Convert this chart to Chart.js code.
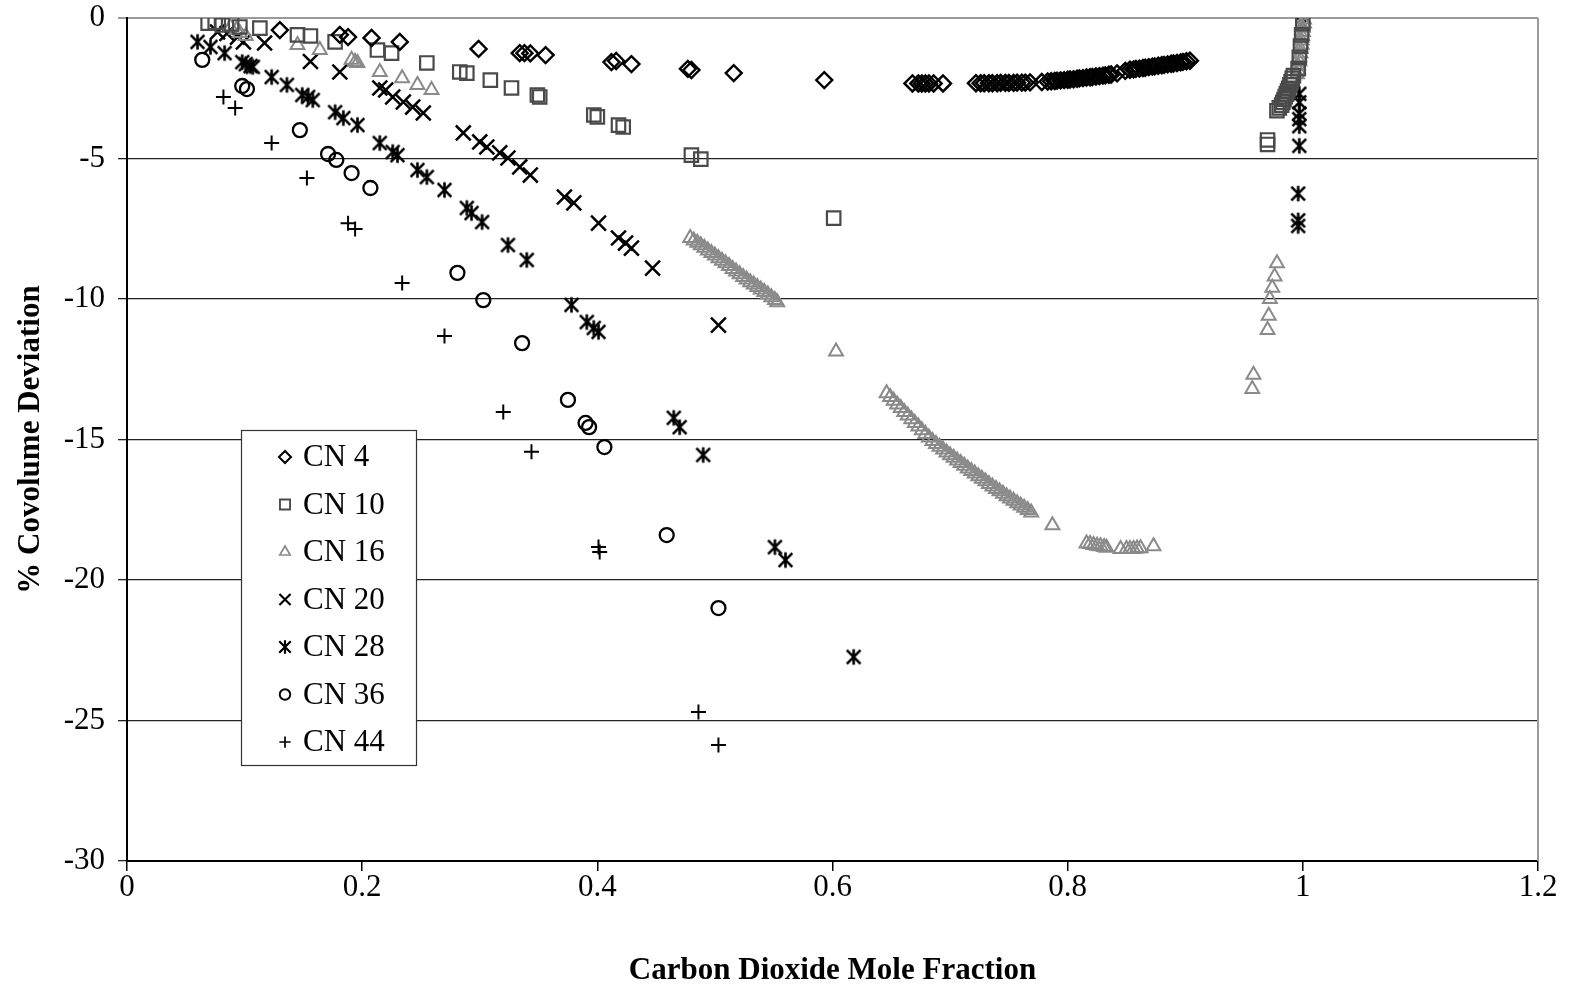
<!DOCTYPE html>
<html>
<head>
<meta charset="utf-8">
<script src="https://cdn.jsdelivr.net/npm/chart.js@4.4.0/dist/chart.umd.min.js"></script>
<style>
    html, body { margin: 0; padding: 0; background: #fff; }
    #wrap { width: 1573px; height: 987px; }
</style>
</head>
<body>
<div id="wrap"><canvas id="myChart" width="1573" height="987"></canvas></div>
<script>
// series, [CO2 mole fraction, % covolume deviation]
const seriesNames = ['CN 4', 'CN 10', 'CN 16', 'CN 20', 'CN 28', 'CN 36', 'CN 44'];

const cn4 = [
    [0.130, -0.43], [0.181, -0.60], [0.188, -0.68], [0.208, -0.71], [0.232, -0.85], [0.299, -1.10],
    [0.334, -1.25], [0.338, -1.25], [0.343, -1.26], [0.356, -1.32], [0.412, -1.57], [0.416, -1.53],
    [0.429, -1.64], [0.477, -1.81], [0.480, -1.85], [0.516, -1.96], [0.593, -2.21],
    [0.668, -2.33], [0.673, -2.33], [0.676, -2.33], [0.679, -2.33], [0.682, -2.33], [0.686, -2.33],
    [0.694, -2.33],
    [0.722, -2.32], [0.726, -2.32], [0.729, -2.32], [0.733, -2.32], [0.736, -2.32], [0.740, -2.32],
    [0.743, -2.31], [0.747, -2.31], [0.750, -2.31], [0.754, -2.31], [0.757, -2.30], [0.761, -2.30],
    [0.764, -2.30], [0.768, -2.29], [0.778, -2.28],
    [0.783, -2.26], [0.786, -2.25], [0.789, -2.24], [0.791, -2.23], [0.794, -2.22], [0.797, -2.21],
    [0.800, -2.20], [0.802, -2.19], [0.805, -2.18], [0.808, -2.16], [0.810, -2.15], [0.813, -2.14],
    [0.816, -2.12], [0.819, -2.11], [0.821, -2.10], [0.824, -2.08], [0.827, -2.07], [0.830, -2.05],
    [0.832, -2.04], [0.835, -2.02], [0.837, -2.01], [0.842, -1.97], [0.849, -1.88],
    [0.853, -1.84], [0.856, -1.83], [0.858, -1.81], [0.861, -1.80], [0.864, -1.78], [0.866, -1.77],
    [0.869, -1.75], [0.872, -1.73], [0.874, -1.72], [0.877, -1.70], [0.880, -1.68], [0.882, -1.67],
    [0.885, -1.65], [0.888, -1.63], [0.890, -1.62], [0.893, -1.60], [0.896, -1.58], [0.898, -1.56],
    [0.901, -1.54], [0.904, -1.52]
];

const cn10 = [
    [0.069, -0.18], [0.075, -0.15], [0.081, -0.25], [0.089, -0.21], [0.096, -0.32], [0.113, -0.36],
    [0.145, -0.60], [0.156, -0.64], [0.177, -0.85], [0.213, -1.14], [0.225, -1.25], [0.255, -1.60],
    [0.283, -1.92], [0.289, -1.96], [0.309, -2.21], [0.327, -2.49], [0.349, -2.74], [0.351, -2.81],
    [0.397, -3.45], [0.400, -3.52], [0.418, -3.81], [0.422, -3.88], [0.480, -4.88], [0.488, -5.02],
    [0.601, -7.12], [0.970, -4.34], [0.970, -4.50],
    [1.000, -0.20], [0.999, -0.60], [0.998, -1.00], [0.997, -1.40], [0.996, -1.80],
    [0.992, -2.05], [0.991, -2.15], [0.990, -2.27], [0.989, -2.38], [0.988, -2.50], [0.987, -2.60],
    [0.986, -2.70], [0.985, -2.80], [0.984, -2.90], [0.983, -3.00], [0.982, -3.10], [0.980, -3.20],
    [0.978, -3.30]
];

const cn16 = [
    [0.088, -0.32], [0.093, -0.43], [0.096, -0.53], [0.101, -0.64], [0.145, -0.96], [0.164, -1.14],
    [0.191, -1.49], [0.194, -1.57], [0.196, -1.60], [0.215, -1.92], [0.234, -2.14], [0.247, -2.38],
    [0.259, -2.56],
    [0.479, -7.83], [0.482, -7.92], [0.485, -8.00], [0.488, -8.09], [0.491, -8.18], [0.494, -8.27],
    [0.497, -8.36], [0.500, -8.45], [0.503, -8.55], [0.506, -8.64], [0.509, -8.73], [0.512, -8.83],
    [0.515, -8.93], [0.518, -9.02], [0.521, -9.12], [0.524, -9.22], [0.527, -9.31], [0.530, -9.40],
    [0.533, -9.48], [0.536, -9.57], [0.539, -9.66], [0.542, -9.75], [0.545, -9.84], [0.548, -9.94],
    [0.551, -10.04], [0.553, -10.12],
    [0.603, -11.87],
    [0.646, -13.35], [0.649, -13.49], [0.652, -13.62], [0.655, -13.75], [0.658, -13.88], [0.661, -14.02],
    [0.664, -14.15], [0.667, -14.28], [0.670, -14.41], [0.673, -14.54], [0.676, -14.67], [0.679, -14.80],
    [0.682, -14.93], [0.685, -15.05], [0.688, -15.16], [0.691, -15.26], [0.694, -15.36], [0.697, -15.46],
    [0.700, -15.56], [0.703, -15.65], [0.706, -15.75], [0.709, -15.84], [0.712, -15.93], [0.715, -16.03],
    [0.718, -16.12], [0.721, -16.21], [0.724, -16.31], [0.727, -16.40], [0.730, -16.49], [0.733, -16.58],
    [0.736, -16.67], [0.739, -16.76], [0.742, -16.84], [0.745, -16.93], [0.748, -17.02], [0.751, -17.10],
    [0.754, -17.18], [0.757, -17.27], [0.760, -17.35], [0.763, -17.43], [0.766, -17.51], [0.769, -17.60],
    [0.787, -18.05],
    [0.816, -18.70], [0.819, -18.72], [0.822, -18.75], [0.825, -18.78], [0.828, -18.80], [0.831, -18.83],
    [0.833, -18.85], [0.845, -18.90], [0.850, -18.90], [0.853, -18.90], [0.856, -18.90], [0.859, -18.88],
    [0.862, -18.87], [0.873, -18.80],
    [0.978, -8.73], [0.976, -9.20], [0.974, -9.60], [0.972, -10.00], [0.971, -10.60], [0.970, -11.10],
    [0.958, -12.70], [0.957, -13.20],
    [1.001, -0.05], [1.001, -0.20], [1.000, -0.35], [1.000, -0.50], [0.9995, -0.65], [0.999, -0.80],
    [0.999, -0.95], [0.998, -1.10], [0.998, -1.25], [0.997, -1.40], [0.997, -1.55], [0.996, -1.70],
    [0.996, -1.85], [0.995, -2.00]
];

const cn20 = [
    [0.077, -0.50], [0.085, -0.55], [0.094, -0.68], [0.099, -0.85], [0.117, -0.89], [0.156, -1.55],
    [0.181, -1.92], [0.215, -2.49], [0.220, -2.56], [0.226, -2.81], [0.235, -2.99], [0.243, -3.17],
    [0.252, -3.38], [0.286, -4.09], [0.300, -4.41], [0.306, -4.59], [0.317, -4.80], [0.324, -4.98],
    [0.334, -5.30], [0.343, -5.59], [0.372, -6.37], [0.380, -6.58], [0.401, -7.30], [0.418, -7.83],
    [0.424, -8.01], [0.429, -8.19], [0.447, -8.90], [0.503, -10.93]
];

const cn28 = [
    [0.060, -0.85], [0.071, -1.03], [0.083, -1.25], [0.098, -1.57], [0.101, -1.64], [0.105, -1.71],
    [0.107, -1.74], [0.123, -2.10], [0.136, -2.38], [0.149, -2.74], [0.154, -2.81], [0.158, -2.92],
    [0.177, -3.35], [0.184, -3.56], [0.196, -3.81], [0.215, -4.45], [0.226, -4.77], [0.230, -4.88],
    [0.247, -5.41], [0.255, -5.66], [0.270, -6.12], [0.289, -6.76], [0.293, -6.94], [0.302, -7.26],
    [0.324, -8.08], [0.340, -8.61], [0.378, -10.21], [0.391, -10.82], [0.397, -11.03], [0.401, -11.17],
    [0.465, -14.23], [0.470, -14.56], [0.490, -15.55], [0.551, -18.83], [0.560, -19.29], [0.618, -22.74],
    [1.000, -0.20], [0.997, -2.70], [0.997, -3.00], [0.997, -3.40], [0.997, -3.60], [0.997, -3.85],
    [0.997, -4.55], [0.996, -6.25], [0.996, -7.20], [0.996, -7.40]
];

const cn36 = [
    [0.064, -1.49], [0.098, -2.42], [0.102, -2.53], [0.147, -3.99], [0.171, -4.84], [0.178, -5.05],
    [0.191, -5.52], [0.207, -6.05], [0.281, -9.07], [0.303, -10.04], [0.336, -11.57], [0.375, -13.59],
    [0.390, -14.41], [0.393, -14.56], [0.406, -15.27], [0.459, -18.40], [0.503, -21.00]
];

const cn44 = [
    [0.082, -2.81], [0.092, -3.20], [0.123, -4.45], [0.153, -5.69], [0.188, -7.30], [0.194, -7.51],
    [0.234, -9.43], [0.270, -11.32], [0.320, -14.02], [0.344, -15.44], [0.401, -18.83], [0.402, -19.00],
    [0.486, -24.70], [0.503, -25.87]
];

const xTicks = [0, 0.2, 0.4, 0.6, 0.8, 1, 1.2];
const yTicks = [0, -5, -10, -15, -20, -25, -30];

const serif = '"Liberation Serif", "Times New Roman", Times, serif';
Chart.defaults.font.family = serif;
Chart.defaults.color = '#000';

// Excel style asterisk: an x with a vertical bar through it
function makeAsterisk(size, lw) {
    const c = document.createElement('canvas');
    c.width = size;
    c.height = size;
    const g = c.getContext('2d');
    const m = size / 2, a = size * 0.36;
    g.strokeStyle = '#000';
    g.lineWidth = lw;
    g.beginPath();
    g.moveTo(m - a, m - a); g.lineTo(m + a, m + a);
    g.moveTo(m + a, m - a); g.lineTo(m - a, m + a);
    g.moveTo(m, m - a - 1); g.lineTo(m, m + a + 1);
    g.stroke();
    return c;
}
const asterisk = makeAsterisk(19, 2.6);
const asteriskSmall = makeAsterisk(16, 2.2);

const styles = [
    { data: cn4, color: '#000', pointStyle: 'rectRot', radius: 8, width: 2.4 },
    { data: cn10, color: '#4a4a4a', pointStyle: 'rect', radius: 9.5, width: 2.2 },
    { data: cn16, color: '#8a8a8a', pointStyle: 'triangle', radius: 8, width: 2 },
    { data: cn20, color: '#000', pointStyle: 'crossRot', radius: 10.5, width: 2.5 },
    { data: cn28, color: '#000', pointStyle: asterisk, radius: 8, width: 2.4 },
    { data: cn36, color: '#000', pointStyle: 'circle', radius: 7, width: 2.3 },
    { data: cn44, color: '#000', pointStyle: 'cross', radius: 7.5, width: 2 }
];

const datasets = styles.map(function (s, i) {
    return {
        label: seriesNames[i],
        data: s.data.map(function (p) { return { x: p[0], y: p[1] }; }),
        pointStyle: s.pointStyle,
        pointRadius: s.radius,
        pointHoverRadius: s.radius,
        pointBorderWidth: s.width,
        borderColor: s.color,
        backgroundColor: 'rgba(0,0,0,0)',
        showLine: false
    };
});

// right border of the plot area (light gray like the top one)
const frame = {
    id: 'frame',
    beforeDatasetsDraw: function (chart) {
        const a = chart.chartArea, ctx = chart.ctx;
        ctx.save();
        ctx.strokeStyle = '#9a9a9a';
        ctx.lineWidth = 2;
        ctx.beginPath();
        ctx.moveTo(a.right, a.top);
        ctx.lineTo(a.right, a.bottom);
        ctx.stroke();
        ctx.restore();
    }
};

// boxed legend sitting inside the plot area
const boxLegend = {
    id: 'boxLegend',
    afterDraw: function (chart) {
        const ctx = chart.ctx;
        const left = 241, top = 430, w = 175, h = 335;
        ctx.save();
        ctx.fillStyle = '#fff';
        ctx.fillRect(left, top, w, h);
        ctx.strokeStyle = '#333';
        ctx.lineWidth = 1.2;
        ctx.strokeRect(left + 0.5, top + 0.5, w, h);
        ctx.font = '31px ' + serif;
        ctx.textBaseline = 'middle';
        ctx.textAlign = 'left';
        styles.forEach(function (s, i) {
            const y = top + 27 + i * 47.5;
            ctx.strokeStyle = s.color;
            ctx.fillStyle = 'rgba(0,0,0,0)';
            ctx.lineWidth = s.width * 0.85;
            Chart.helpers.drawPoint(ctx, {
                pointStyle: s.pointStyle === asterisk ? asteriskSmall : s.pointStyle,
                radius: s.radius * 0.75,
                rotation: 0,
                borderWidth: s.width
            }, 285, y);
            ctx.fillStyle = '#000';
            ctx.fillText(seriesNames[i], 303, y + 1);
        });
        ctx.restore();
    }
};

const ctx = document.getElementById('myChart').getContext('2d');
const myChart = new Chart(ctx, {
    type: 'scatter',
    data: { datasets: datasets },
    plugins: [frame, boxLegend],
    options: {
        responsive: false,
        animation: false,
        layout: { padding: { top: 18, right: 35, left: 0, bottom: 0 } },
        plugins: {
            legend: { display: false },
            tooltip: { enabled: false }
        },
        scales: {
            x: {
                type: 'linear',
                min: 0,
                max: 1.2,
                afterFit: function (scale) {
                    scale.height = 126;
                    scale.paddingLeft = 0;
                    scale.paddingRight = 0;
                },
                afterBuildTicks: function (scale) {
                    scale.ticks = xTicks.map(function (v) { return { value: v }; });
                },
                ticks: {
                    font: { size: 31 },
                    padding: -2,
                    color: '#000',
                    callback: function (v) { return String(Number(v.toFixed(1))); }
                },
                grid: {
                    drawOnChartArea: false,
                    drawTicks: true,
                    tickLength: 10,
                    color: '#000',
                    lineWidth: 1.5
                },
                border: { display: true, color: '#000', width: 2 },
                title: {
                    display: true,
                    text: 'Carbon Dioxide Mole Fraction',
                    font: { size: 31, weight: 'bold', lineHeight: 1.2 },
                    padding: { top: 0, bottom: -3 },
                    color: '#000'
                }
            },
            y: {
                type: 'linear',
                min: -30,
                max: 0,
                afterFit: function (scale) {
                    scale.width = 127;
                    scale.paddingTop = 0;
                    scale.paddingBottom = 0;
                },
                afterBuildTicks: function (scale) {
                    scale.ticks = yTicks.map(function (v) { return { value: v }; });
                },
                ticks: {
                    font: { size: 31 },
                    padding: 13,
                    color: '#000',
                    callback: function (v) { return String(v); }
                },
                grid: {
                    drawTicks: true,
                    tickLength: 9,
                    color: function (c) { return c.tick && c.tick.value === 0 ? '#9a9a9a' : '#222'; },
                    lineWidth: function (c) { return c.tick && c.tick.value === 0 ? 2 : 1.3; }
                },
                border: { display: true, color: '#000', width: 2 },
                title: {
                    display: true,
                    text: '% Covolume Deviation',
                    font: { size: 31, weight: 'bold', lineHeight: 1.2 },
                    padding: { top: 12, bottom: 0 },
                    color: '#000'
                }
            }
        }
    }
});
</script>
</body>
</html>
